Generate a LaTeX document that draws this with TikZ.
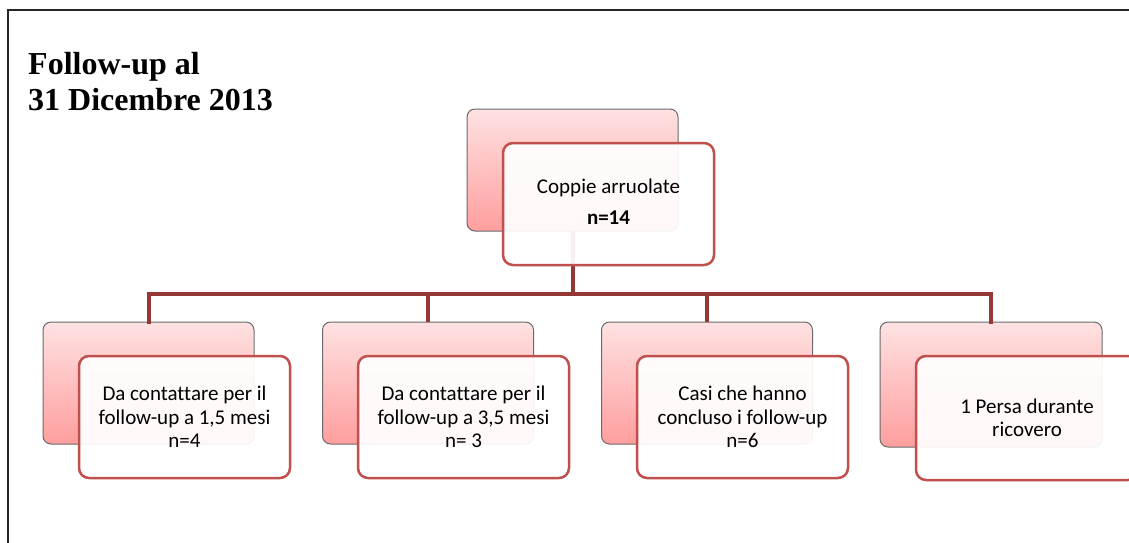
\documentclass[tikz,border=0pt]{standalone}
\usepackage{fontspec}
\setmainfont{Liberation Serif}
\newfontfamily\boxfont[Ligatures=NoCommon]{Carlito}
\definecolor{conn}{HTML}{953735}
\definecolor{frontedge}{HTML}{C0504D}
\definecolor{backtop}{HTML}{FFE2E2}
\definecolor{backbot}{HTML}{FF9E9E}
\definecolor{backedge}{HTML}{6A6A6A}
\tikzset{
  backbox/.style={draw=backedge, line width=1pt, rounded corners=8pt,
    top color=backtop, bottom color=backbot, minimum width=211pt,
    minimum height=122pt, inner sep=0pt, outer sep=0pt},
  frontbox/.style={draw=frontedge, line width=2.5pt, rounded corners=10pt,
    fill=white, fill opacity=0.93, text opacity=1, minimum width=211pt,
    minimum height=122pt, inner sep=0pt, outer sep=0pt},
  boxtext/.style={font=\boxfont\fontsize{21}{23.5}\selectfont, align=center, text=black},
  connector/.style={draw=conn, line width=4pt},
}
\begin{document}
\begin{tikzpicture}[x=1pt,y=-1pt]
\clip (0,0) rectangle (1129,542);
\fill[white] (0,0) rectangle (1129,542);
\draw[line width=1.6pt, draw=black!85] (8,10) rectangle (1160,580);
% title
\node[anchor=base west, inner sep=0pt, font=\bfseries\fontsize{32}{36}\selectfont] (t1) at (28,74) {Follow-up al};
\node[anchor=base west, inner sep=0pt, font=\bfseries\fontsize{32}{36}\selectfont] (t2) at (28,110) {31 Dicembre 2013};
% back boxes
\node[backbox] (b0) at (572.5,170) {};
\node[backbox] (b1) at (148.5,383) {};
\node[backbox] (b2) at (428,383) {};
\node[backbox] (b3) at (707,383) {};
\node[backbox, minimum width=222pt, minimum height=125pt] (b4) at (991,384.5) {};
% connectors
\coordinate (j) at (572.5,294);
\draw[connector] (b0.south) -- (j);
\draw[connector, line cap=rect] (b1.north) |- (j) -| (b4.north);
\draw[connector] (b2.north) -- (b2.north |- j);
\draw[connector] (b3.north) -- (b3.north |- j);
% front boxes
\node[frontbox] (f0) at (608.5,204) {};
\node[frontbox] (f1) at (184.5,417) {};
\node[frontbox] (f2) at (463.5,417) {};
\node[frontbox] (f3) at (742.5,417) {};
\node[frontbox, minimum width=222pt, minimum height=124pt] (f4) at (1027,418) {};
% texts
\node[boxtext] (x0a) at (608.5,188) {Coppie arruolate};
\node[boxtext] (x0b) at (608.5,218) {\bfseries n=14};
\node[boxtext] (x1) at (f1.center) {Da contattare per il\\follow-up a 1,5 mesi\\n=4};
\node[boxtext] (x2) at (f2.center) {Da contattare per il\\follow-up a 3,5 mesi\\n= 3};
\node[boxtext] (x3) at (f3.center) {Casi che hanno\\concluso i follow-up\\n=6};
\node[boxtext] (x4) at (f4.center) {1 Persa durante\\ricovero};
\end{tikzpicture}
\end{document}
